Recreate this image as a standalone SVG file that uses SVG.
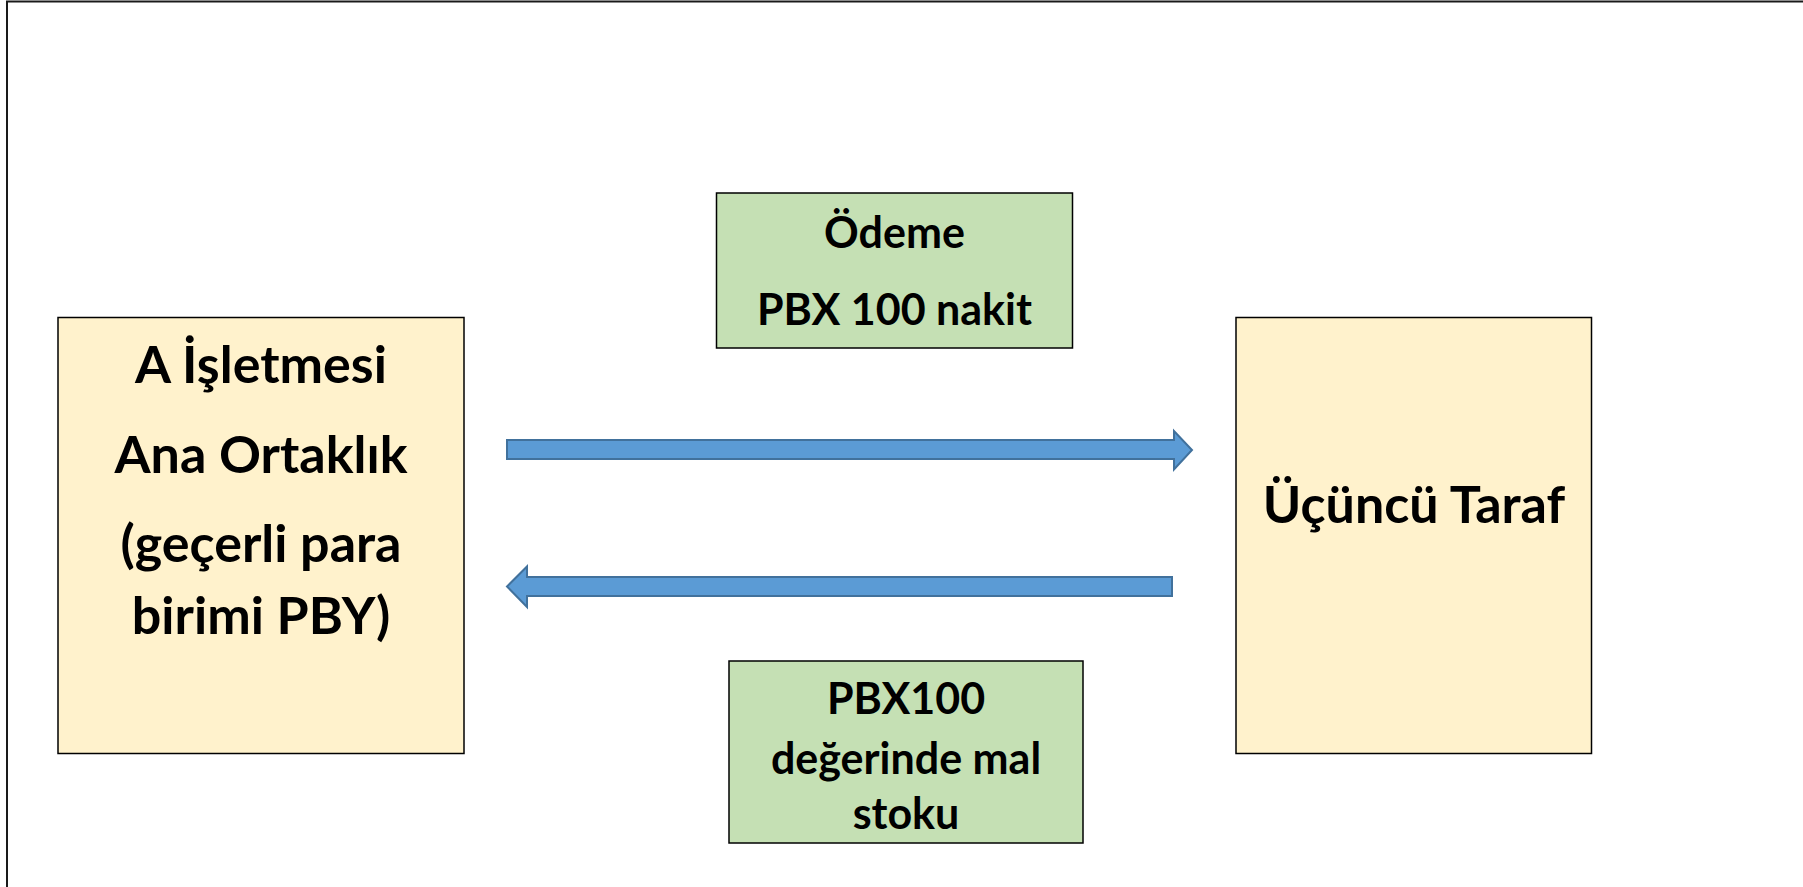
<svg xmlns="http://www.w3.org/2000/svg" width="1803" height="887" viewBox="0 0 1803 887">
<style>
.frame{fill:none;stroke:#1a1a1a;stroke-width:2}
.party{fill:#FFF2CC;stroke:#000;stroke-width:1.5}
.label{fill:#C5E0B4;stroke:#000;stroke-width:1.5}
.arrow{fill:#5B9BD5;stroke:#41719C;stroke-width:2}
text{font-family:Lato,"Liberation Sans",sans-serif;font-weight:bold;fill:#000;text-anchor:middle}
.big{font-size:52px}
.small{font-size:43px}
</style>
<rect x="0" y="0" width="1803" height="887" fill="#fff"/>
<path class="frame" d="M7,887 V1.5 H1803"/>
<g id="node-a">
<rect class="party" x="58" y="317.5" width="406" height="436"/>
<text class="big" x="261" y="383">A İşletmesi</text>
<text class="big" x="261" y="473">Ana Ortaklık</text>
<text class="big" x="261" y="562">(geçerli para</text>
<text class="big" x="261" y="634">birimi PBY)</text>
</g>
<g id="node-third">
<rect class="party" x="1236" y="317.5" width="355.5" height="436"/>
<text class="big" x="1414" y="523">Üçüncü Taraf</text>
</g>
<g id="node-payment">
<rect class="label" x="716.5" y="193" width="356" height="155"/>
<text class="small" x="894.5" y="248">Ödeme</text>
<text class="small" x="894.5" y="325">PBX 100 nakit</text>
</g>
<g id="node-goods">
<rect class="label" x="729" y="661" width="354" height="182"/>
<text class="small" x="906" y="714">PBX100</text>
<text class="small" x="906" y="774">değerinde mal</text>
<text class="small" x="906" y="829">stoku</text>
</g>
<g id="connectors">
<path class="arrow" d="M507,440 H1174 V431 L1192,450 L1174,469.5 V459 H507 Z"/>
<path class="arrow" d="M1172,577 H527 V566.5 L507,586.5 L527,607 V596 H1172 Z"/>
</g>
</svg>
